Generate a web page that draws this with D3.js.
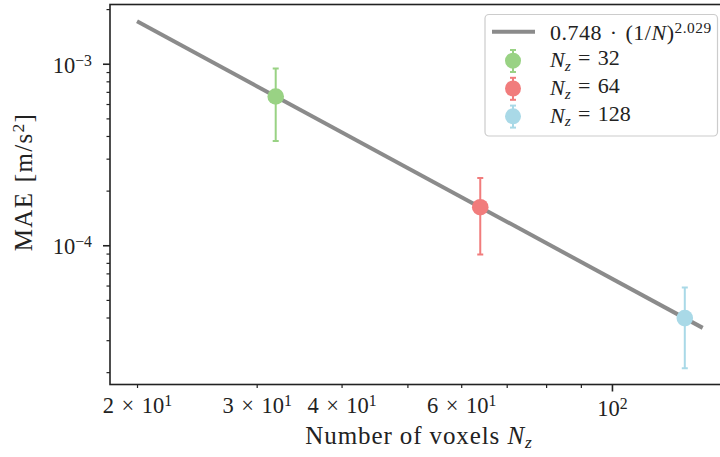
<!DOCTYPE html>
<html>
<head>
<meta charset="utf-8">
<script src="https://cdn.jsdelivr.net/npm/d3@7"></script>
<style>
    body { margin: 0; background: #fff; }
    svg { display: block; font-family: "Liberation Serif", "DejaVu Serif", serif; }
</style>
</head>
<body>
<svg width="720" height="457"></svg>
<script>
// values
const nz = [32, 64, 128];
const maeMean = [6.6e-4, 1.62e-4, 3.97e-5];
const maeLow = [3.75e-4, 8.9e-5, 2.1e-5];
const maeHigh = [9.4e-4, 2.35e-4, 5.85e-5];
const seriesLabels = ['32', '64', '128'];
const seriesColors = ['#99d284', '#f17c7c', '#a9d9e7'];

// fit shown in the legend: 0.748 * (1/N)^2.029
const fitCoef = 0.748;
const fitExp = 2.029;
const fitRange = [20, 136];

const xLabelled = [20, 30, 40, 60, 100];
const xMajor = [100];
const yMajor = [1e-3, 1e-4];

const svg = d3.select('svg');
const plot = { left: 110, top: 4.5, right: 731.6, bottom: 384.5 };

const x = d3.scaleLog().domain([18.25, 150]).range([plot.left, plot.right]);
const y = d3.scaleLog().domain([2.12e-3, 1.71e-5]).range([plot.top, plot.bottom]);

const ink = '#222';

svg.append('clipPath').attr('id', 'clip')
    .append('rect')
    .attr('x', plot.left).attr('y', plot.top)
    .attr('width', plot.right - plot.left).attr('height', plot.bottom - plot.top);

const isMajor = (list) => (v) => list.some(m => Math.abs(Math.log10(v) - Math.log10(m)) < 1e-6);

// x axis
const xTicks = x.ticks();
const gxMinor = svg.append('g')
    .attr('transform', `translate(0,${plot.bottom})`)
    .call(d3.axisBottom(x).tickValues(xTicks.filter(v => !isMajor(xMajor)(v))).tickSize(3.5).tickFormat(''));
const gxMajor = svg.append('g')
    .attr('transform', `translate(0,${plot.bottom})`)
    .call(d3.axisBottom(x).tickValues(xMajor).tickSize(7).tickFormat(''));
[gxMinor, gxMajor].forEach(g => {
    g.select('.domain').remove();
    g.selectAll('.tick line').attr('stroke', ink);
});
gxMinor.selectAll('.tick line').attr('stroke-width', 1.2);
gxMajor.selectAll('.tick line').attr('stroke-width', 1.6);

const sup = (text, parts) => {
    text.text(null);
    parts.forEach(p => {
        const t = text.append('tspan').text(p.t);
        if (p.sup) t.attr('font-size', '0.7em').attr('dy', '-0.45em');
        if (p.sub) t.attr('font-size', '0.7em').attr('dy', '0.25em');
        if (p.back) t.attr('dy', p.back);
        if (p.it) t.attr('font-style', 'italic');
    });
};

[gxMinor, gxMajor].forEach((g, gi) => {
    g.selectAll('.tick').each(function (d) {
        if (!xLabelled.some(v => Math.abs(v - d) < 1e-9)) return;
        const exp = Math.floor(Math.log10(d) + 1e-9);
        const mant = Math.round(d / Math.pow(10, exp));
        const t = d3.select(this).select('text')
            .attr('y', gi === 0 ? 28.8 : 31.5).attr('dy', null)
            .attr('fill', ink).attr('font-size', 22.5)
            .attr('font-family', '"Liberation Serif", serif');
        const parts = mant === 1 ? [{ t: '10' }, { t: String(exp), sup: true }]
            : [{ t: `${mant}\u2004×\u200410` }, { t: String(exp), sup: true }];
        sup(t, parts);
    });
});

// y axis
const yTicks = y.ticks();
const gyMinor = svg.append('g')
    .attr('transform', `translate(${plot.left},0)`)
    .call(d3.axisLeft(y).tickValues(yTicks.filter(v => !isMajor(yMajor)(v))).tickSize(3.5).tickFormat(''));
const gyMajor = svg.append('g')
    .attr('transform', `translate(${plot.left},0)`)
    .call(d3.axisLeft(y).tickValues(yMajor).tickSize(7).tickFormat(''));
[gyMinor, gyMajor].forEach(g => {
    g.select('.domain').remove();
    g.selectAll('.tick line').attr('stroke', ink);
});
gyMinor.selectAll('.tick line').attr('stroke-width', 1.2);
gyMajor.selectAll('.tick line').attr('stroke-width', 1.6);
gyMajor.selectAll('.tick').each(function (d) {
    const exp = Math.round(Math.log10(d));
    const t = d3.select(this).select('text')
        .attr('x', -18).attr('dy', '0.38em')
        .attr('fill', ink).attr('font-size', 22.5)
        .attr('font-family', '"Liberation Serif", serif');
    sup(t, [{ t: '10' }, { t: `−${-exp}`, sup: true }]);
});

// plot contents
const body = svg.append('g').attr('clip-path', 'url(#clip)');

const fitLine = d3.line()
    .x(d => x(d))
    .y(d => y(fitCoef * Math.pow(1 / d, fitExp)));
body.append('path')
    .attr('d', fitLine(fitRange))
    .attr('fill', 'none')
    .attr('stroke', '#8b8b8b')
    .attr('stroke-width', 4);

const pts = body.selectAll('.pt').data(nz).enter().append('g').attr('class', 'pt');
pts.append('line')
    .attr('x1', d => x(d)).attr('x2', d => x(d))
    .attr('y1', (d, i) => y(maeLow[i])).attr('y2', (d, i) => y(maeHigh[i]))
    .attr('stroke', (d, i) => seriesColors[i]).attr('stroke-width', 2);
[maeLow, maeHigh].forEach(arr => {
    pts.append('line')
        .attr('x1', d => x(d) - 3).attr('x2', d => x(d) + 3)
        .attr('y1', (d, i) => y(arr[i])).attr('y2', (d, i) => y(arr[i]))
        .attr('stroke', (d, i) => seriesColors[i]).attr('stroke-width', 2);
});
pts.append('circle')
    .attr('cx', d => x(d)).attr('cy', (d, i) => y(maeMean[i]))
    .attr('r', 8.3)
    .attr('fill', (d, i) => seriesColors[i]);

// frame
svg.append('rect')
    .attr('x', plot.left).attr('y', plot.top)
    .attr('width', plot.right - plot.left).attr('height', plot.bottom - plot.top)
    .attr('fill', 'none').attr('stroke', ink).attr('stroke-width', 1.6);

// axis labels
const xl = svg.append('text')
    .attr('x', 419).attr('y', 444)
    .attr('text-anchor', 'middle').attr('font-size', 25).attr('letter-spacing', 0.9).attr('fill', ink);
sup(xl, [{ t: 'Number of voxels ' }, { t: 'N', it: true }, { t: 'z', it: true, sub: true }]);

const yl = svg.append('text')
    .attr('transform', 'translate(32,182) rotate(-90)')
    .attr('text-anchor', 'middle').attr('font-size', 25).attr('letter-spacing', 1.3).attr('fill', ink);
sup(yl, [{ t: 'MAE\u2004[m/s' }, { t: '2', sup: true }, { t: ']', back: '0.315em' }]);

// legend
const lg = svg.append('g');
lg.append('rect')
    .attr('x', 485).attr('y', 14.5).attr('width', 232.5).attr('height', 121.5).attr('rx', 4)
    .attr('fill', '#fff').attr('fill-opacity', 0.8)
    .attr('stroke', '#cccccc').attr('stroke-width', 1.2);
lg.append('line')
    .attr('x1', 492).attr('x2', 535).attr('y1', 31.7).attr('y2', 31.7)
    .attr('stroke', '#8b8b8b').attr('stroke-width', 4);
const ft = lg.append('text').attr('x', 550).attr('y', 39.5).attr('font-size', 22)
    .attr('letter-spacing', 0.5).attr('fill', ink);
sup(ft, [{ t: `${fitCoef}\u2004·\u2004(1/` }, { t: 'N', it: true }, { t: ')' }, { t: String(fitExp), sup: true }]);

const rows = lg.selectAll('.row').data(seriesLabels).enter().append('g')
    .attr('class', 'row')
    .attr('transform', (d, i) => `translate(0,${67 + i * 27.8})`);
rows.append('line')
    .attr('x1', 513).attr('x2', 513).attr('y1', -17).attr('y2', 5)
    .attr('stroke', (d, i) => seriesColors[i]).attr('stroke-width', 2);
[-17, 5].forEach(yy => rows.append('line')
    .attr('x1', 510).attr('x2', 516).attr('y1', yy).attr('y2', yy)
    .attr('stroke', (d, i) => seriesColors[i]).attr('stroke-width', 2));
rows.append('circle')
    .attr('cx', 513).attr('cy', -6.3).attr('r', 8)
    .attr('fill', (d, i) => seriesColors[i]);
rows.append('text')
    .attr('x', 550).attr('font-size', 22).attr('fill', ink)
    .each(function (d) {
        sup(d3.select(this), [{ t: 'N', it: true }, { t: 'z', it: true, sub: true }, { t: `\u2004=\u2004${d}`, back: '-0.25em' }]);
    });
</script>
</body>
</html>
